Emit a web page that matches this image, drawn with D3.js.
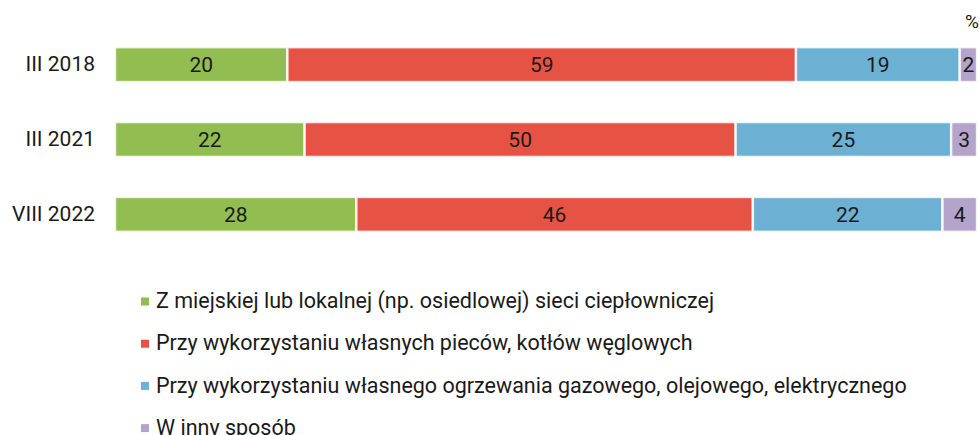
<!DOCTYPE html>
<html>
<head>
<meta charset="utf-8">
<script src="https://cdn.jsdelivr.net/npm/d3@7"></script>
<style>
  body { margin: 0; background: #fff; }
  svg { font-family: Roboto, "Noto Sans", sans-serif; }
</style>
</head>
<body>
<script>
var periods = ['III 2018', 'III 2021', 'VIII 2022'];
var seriesKeys = ['siec', 'wegiel', 'gaz', 'inny'];
var seriesNames = [
  'Z miejskiej lub lokalnej (np. osiedlowej) sieci ciepłowniczej',
  'Przy wykorzystaniu własnych pieców, kotłów węglowych',
  'Przy wykorzystaniu własnego ogrzewania gazowego, olejowego, elektrycznego',
  'W inny sposób'
];
var siec = [20, 22, 28];
var wegiel = [59, 50, 46];
var gaz = [19, 25, 22];
var inny = [2, 3, 4];
var colors = ['#92be51', '#e65345', '#6cb0d3', '#b4a3ca'];

var width = 980, height = 435;

var rows = periods.map(function(p, i) {
  return { period: p, siec: siec[i], wegiel: wegiel[i], gaz: gaz[i], inny: inny[i] };
});

var stacked = d3.stack().keys(seriesKeys)(rows);

var svg = d3.select('body').append('svg')
    .attr('width', width)
    .attr('height', height);

var x = d3.scaleLinear()
    .domain([0, 100])
    .range([115, 977]);

var y = d3.scaleBand()
    .domain(periods)
    .range([27, 252])
    .paddingInner(0.535)
    .paddingOuter(0.27);

var color = d3.scaleOrdinal().domain(seriesKeys).range(colors);

// bars
var layer = svg.selectAll('g.layer')
  .data(stacked)
  .enter().append('g')
    .attr('class', 'layer')
    .attr('fill', function(d) { return color(d.key); });

layer.selectAll('rect')
  .data(function(d) { return d; })
  .enter().append('rect')
    .attr('x', function(d) { return x(d[0]); })
    .attr('y', function(d) { return y(d.data.period); })
    .attr('width', function(d) { return x(d[1]) - x(d[0]); })
    .attr('height', y.bandwidth())
    .attr('stroke', '#fff')
    .attr('stroke-width', 2.4)
    .attr('stroke-opacity', 0.85);

// value labels
layer.selectAll('text')
  .data(function(d) { return d; })
  .enter().append('text')
    .attr('x', function(d) { return (x(d[0]) + x(d[1])) / 2; })
    .attr('y', function(d) { return y(d.data.period) + y.bandwidth() / 2; })
    .attr('dy', '0.36em')
    .attr('text-anchor', 'middle')
    .attr('font-size', '21px')
    .attr('fill', '#1a1a1a')
    .text(function(d) { return d[1] - d[0]; });

// category axis
var yAxis = svg.append('g')
    .attr('transform', 'translate(105,0)')
    .call(d3.axisLeft(y).tickSize(0).tickPadding(10));
yAxis.select('.domain').remove();
yAxis.selectAll('text')
    .attr('font-size', '21px')
    .attr('font-family', 'Roboto, "Noto Sans", sans-serif')
    .attr('fill', '#1a1a1a');

// unit
svg.append('text')
    .attr('x', 965)
    .attr('y', 28)
    .attr('font-size', '19px')
    .attr('fill', '#1a1a1a')
    .text('%');

// legend
var legend = svg.selectAll('g.legend')
  .data(seriesNames)
  .enter().append('g')
    .attr('class', 'legend')
    .attr('transform', function(d, i) { return 'translate(141,' + (301.5 + i * 42.2) + ')'; });

legend.append('rect')
    .attr('x', 0)
    .attr('y', -4)
    .attr('width', 8)
    .attr('height', 8)
    .attr('fill', function(d, i) { return colors[i]; });

legend.append('text')
    .attr('x', 15)
    .attr('y', -1)
    .attr('dy', '0.36em')
    .attr('font-size', '21.5px')
    .attr('fill', '#1a1a1a')
    .text(function(d) { return d; });
</script>
</body>
</html>
